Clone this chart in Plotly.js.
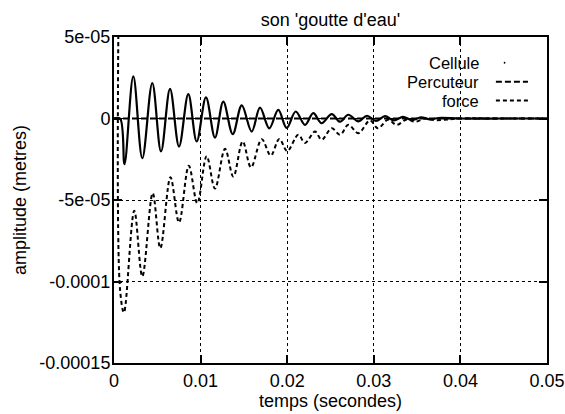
<!DOCTYPE html>
<html>
<head>
<meta charset="utf-8">
<script src="https://cdn.plot.ly/plotly-3.0.1.min.js"></script>
<style>html,body{margin:0;padding:0;background:#fff;}#chart{width:565px;height:414px;}</style>
</head>
<body>
<div id="chart"></div>
<script>
// ---- data ----
var chartTitle = "son 'goutte d'eau'";
var xTitle = "temps (secondes)";
var yTitle = "amplitude (metres)";
var seriesNames = ["Cellule", "Percuteur", "force"];

var xTickVals = [0, 0.01, 0.02, 0.03, 0.04, 0.05];
var xTickText = ["0", "0.01", "0.02", "0.03", "0.04", "0.05"];
var yTickVals = [5e-5, 0, -5e-5, -1e-4, -1.5e-4];
var yTickText = ["5e-05", "0", "-5e-05", "-0.0001", "-0.00015"];

// Cellule (dense dots around zero)
var celluleT = [0, 0.0007, 0.00121, 0.00223, 0.00327, 0.00442, 0.00543, 0.00647, 0.00751, 0.00858,
  0.00955, 0.01062, 0.01166, 0.01262, 0.01371, 0.01475, 0.0159, 0.01686, 0.01793, 0.01897,
  0.01994, 0.02098, 0.02206, 0.02301, 0.02398, 0.02514, 0.0261, 0.02706, 0.02821, 0.02921,
  0.03025, 0.0313, 0.03233, 0.03337, 0.03441, 0.03545, 0.0365, 0.0375, 0.04, 0.045, 0.05];
var celluleV = [0, 0, -2.8e-5, 2.58e-5, -2.44e-5, 2.17e-5, -2.02e-5, 1.82e-5, -1.72e-5, 1.49e-5,
  -1.41e-5, 1.29e-5, -1.17e-5, 1.04e-5, -0.96e-5, 0.8e-5, -0.8e-5, 0.67e-5, -0.6e-5, 0.53e-5,
  -0.58e-5, 0.43e-5, -0.39e-5, 0.33e-5, -0.29e-5, 0.27e-5, -0.2e-5, 0.23e-5, -0.18e-5, 0.17e-5,
  -0.15e-5, 0.14e-5, -0.12e-5, 0.1e-5, -0.1e-5, 0.07e-5, -0.05e-5, 0.03e-5, 0, 0, 0];

// Percuteur (flat at zero)
var percuteurT = [0, 0.05];
var percuteurV = [0, 0];

// force (spike then decaying offset oscillation)
var forceT = [0.00062, 0.0007, 0.00115, 0.00234, 0.00327, 0.00447, 0.00535, 0.00652, 0.00751, 0.00864,
  0.00962, 0.0107, 0.01166, 0.01282, 0.01378, 0.01486, 0.01582, 0.01706, 0.0181, 0.01909,
  0.02, 0.02128, 0.02206, 0.02321, 0.02398, 0.02514, 0.0261, 0.02706, 0.02821, 0.02956,
  0.03048, 0.03164, 0.03264, 0.0338, 0.0348, 0.0359, 0.037, 0.04, 0.045, 0.05];
var forceV = [1.2e-4, -1.05e-4, -1.19e-4, -5.66e-5, -9.69e-5, -4.58e-5, -7.96e-5, -3.6e-5, -6.38e-5, -2.9e-5,
  -5.2e-5, -2.31e-5, -4.3e-5, -1.86e-5, -3.56e-5, -1.41e-5, -3.0e-5, -1.27e-5, -2.27e-5, -1.25e-5,
  -2.0e-5, -1.0e-5, -1.5e-5, -0.8e-5, -1.3e-5, -0.6e-5, -1.0e-5, -0.39e-5, -0.9e-5, -0.12e-5,
  -0.6e-5, -0.08e-5, -0.39e-5, -0.06e-5, -0.2e-5, 0, -0.1e-5, 0, 0, 0];

// ---- styles ----
var FONT = "'Liberation Sans', Arial, Helvetica, sans-serif";
var traces = [
  {x: celluleT, y: celluleV, name: seriesNames[0], mode: "lines",
   line: {color: "#000", width: 2.2, shape: "spline", smoothing: 1}},
  {x: percuteurT, y: percuteurV, name: seriesNames[1], mode: "lines",
   line: {color: "#000", width: 2, dash: "6px,3px"}},
  {x: forceT, y: forceV, name: seriesNames[2], mode: "lines",
   line: {color: "#000", width: 2, dash: "4px,3px", shape: "spline", smoothing: 1}}
];

// legend drawn as text + samples on the right (gnuplot style)
var legY = [0.921, 0.863, 0.805];
var annotations = seriesNames.map(function (n, i) {
  return {text: n, xref: "paper", yref: "paper", x: 0.8476, y: legY[i],
          xanchor: "right", yanchor: "middle", showarrow: false,
          font: {family: FONT, size: 16.5, color: "#000"}};
});
var shapes = [
  {type: "circle", xref: "paper", yref: "paper", x0: 0.9, x1: 0.904, y0: legY[0] - 0.003, y1: legY[0] + 0.003,
   fillcolor: "#000", line: {width: 0}},
  {type: "line", xref: "paper", yref: "paper", x0: 0.882, x1: 0.956, y0: legY[1], y1: legY[1],
   line: {color: "#000", width: 2, dash: "6px,3px"}},
  {type: "line", xref: "paper", yref: "paper", x0: 0.882, x1: 0.956, y0: legY[2], y1: legY[2],
   line: {color: "#000", width: 2, dash: "4px,3px"}}
];

var axisCommon = {
  showline: true, linecolor: "#000", linewidth: 2, mirror: "ticks",
  ticks: "inside", ticklen: 8, tickwidth: 2, tickcolor: "#000",
  showgrid: true, gridcolor: "#000", gridwidth: 1, griddash: "dot",
  zeroline: false, tickfont: {family: FONT, size: 18, color: "#000"}
};

var layout = {
  width: 565, height: 414,
  margin: {l: 114, r: 18, t: 37, b: 51},
  paper_bgcolor: "#fff", plot_bgcolor: "#fff",
  showlegend: false,
  font: {family: FONT, color: "#000"},
  title: {text: chartTitle, x: 0.5, xref: "paper", y: 0.952, yanchor: "middle",
          font: {family: FONT, size: 18, color: "#000"}},
  xaxis: Object.assign({}, axisCommon, {
    range: [0, 0.05], tickmode: "array", tickvals: xTickVals, ticktext: xTickText,
    title: {text: xTitle, font: {family: FONT, size: 18, color: "#000"}, standoff: 2}
  }),
  yaxis: Object.assign({}, axisCommon, {
    range: [-1.5e-4, 5e-5], tickmode: "array", tickvals: yTickVals, ticktext: yTickText,
    ticklabelstandoff: -2,
    title: {text: yTitle, font: {family: FONT, size: 18, color: "#000"}, standoff: 8}
  }),
  annotations: annotations,
  shapes: shapes
};

Plotly.newPlot("chart", traces, layout, {staticPlot: true, displayModeBar: false});
</script>
</body>
</html>
